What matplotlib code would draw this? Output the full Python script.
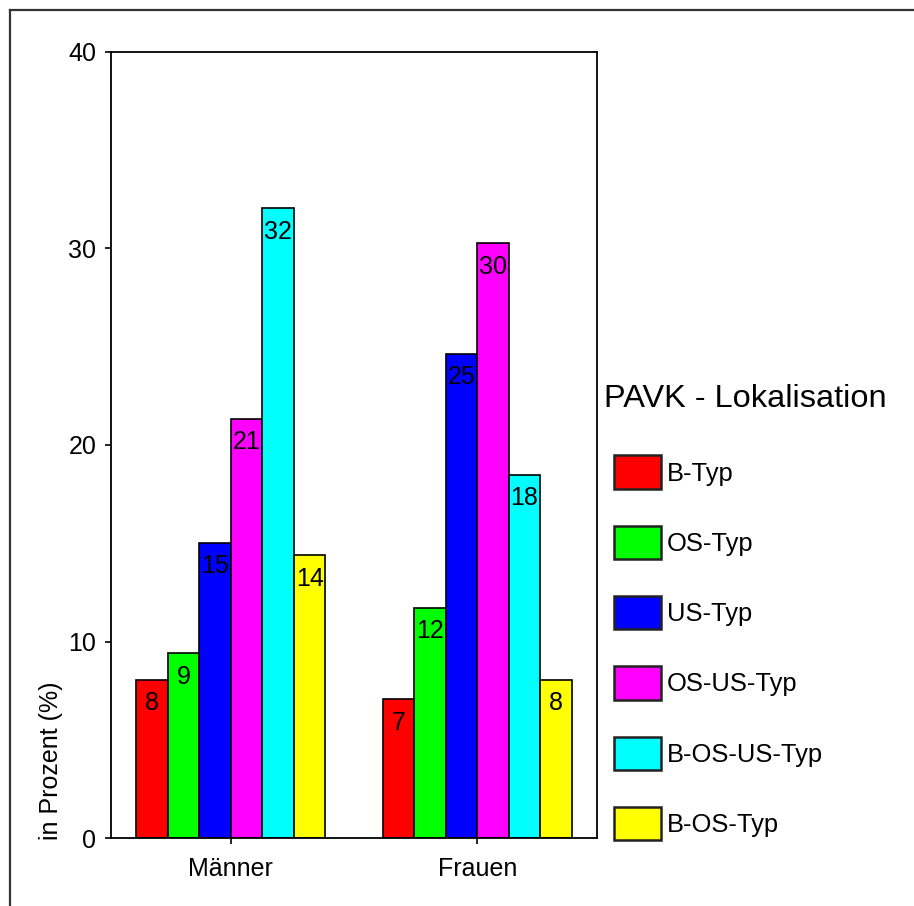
import matplotlib
matplotlib.use("Agg")
import matplotlib.pyplot as plt
import numpy as np
from matplotlib.lines import Line2D

plt.rcParams["font.family"] = ["Liberation Sans", "DejaVu Sans"]

# Data
groups = ["Männer", "Frauen"]
types = ["B-Typ", "OS-Typ", "US-Typ", "OS-US-Typ", "B-OS-US-Typ", "B-OS-Typ"]
maenner = [8.06, 9.39, 15.03, 21.34, 32.04, 14.38]
frauen = [7.05, 11.72, 24.62, 30.26, 18.47, 8.06]
colors = ["#FF0000", "#00FF00", "#0000FF", "#FF00FF", "#00FFFF", "#FFFF00"]
yticks = [0, 10, 20, 30, 40]

W, H, DPI = 914, 906, 100
fig = plt.figure(figsize=(W / DPI, H / DPI), dpi=DPI)
fig.patch.set_facecolor("white")

# helpers: pixel positions -> figure fraction
px = lambda x: x / W
py = lambda y: 1 - y / H

# outer frame (left and top edges visible)
fig.add_artist(Line2D([px(10), px(10)], [py(9.5), -0.1], color="#333333", lw=1.6,
                      transform=fig.transFigure))
fig.add_artist(Line2D([px(10), 1.1], [py(9.5), py(9.5)], color="#333333", lw=1.6,
                      transform=fig.transFigure))

ax = fig.add_axes([px(111), py(838), (597 - 111) / W, (838 - 52) / H])

x = np.arange(len(groups))
bw = 0.128
n = len(types)
data = np.array([maenner, frauen])
handles = []
for i, (t, c) in enumerate(zip(types, colors)):
    offs = (i - (n - 1) / 2) * bw
    bars = ax.bar(x + offs, data[:, i], width=bw, color=c, edgecolor="black",
                  linewidth=1.2, label=t, zorder=2)
    handles.append(bars)
    for xi, v in zip(x + offs, data[:, i]):
        ax.annotate(f"{v:.0f}", xy=(xi, v), xytext=(0, -8), textcoords="offset points",
                    ha="center", va="top", fontsize=18, color="black", zorder=3)

ax.set_xlim(-0.486, 1.486)
ax.set_ylim(0, 40)
ax.set_yticks(yticks)
ax.set_xticks(x)
ax.set_xticklabels(groups)
ax.tick_params(axis="both", direction="out", length=4.5, width=1.2, labelsize=18,
               colors="black")
ax.tick_params(axis="y", pad=6)
ax.tick_params(axis="x", pad=9)
for s in ax.spines.values():
    s.set_linewidth(1.3)
    s.set_color("black")

ax.set_ylabel("in Prozent (%)", fontsize=18, loc="bottom")
ax.yaxis.set_label_coords(-0.099, -0.003)

# legend title and entries
fig.text(px(604), py(407), "PAVK - Lokalisation", fontsize=23.4,
         ha="left", va="baseline", color="black")
leg = fig.legend(handles=handles, labels=types,
                 loc="upper left", bbox_to_anchor=(px(614), py(455.5)),
                 frameon=False, fontsize=18.4,
                 handlelength=1.84, handleheight=1.63, labelspacing=1.445,
                 handletextpad=0.24, borderpad=0.0, borderaxespad=0.0)
for p in leg.get_patches():
    p.set_linewidth(1.8)
    p.set_edgecolor("#222222")

fig.savefig("out.png", dpi=DPI)
